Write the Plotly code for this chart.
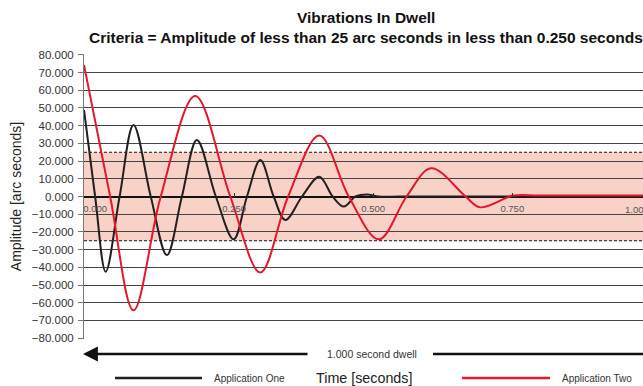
import plotly.graph_objects as go

# Application One: amplitude samples (seconds, arc seconds)
t_one = [-0.020, 0.000, 0.019, 0.044, 0.069, 0.100, 0.129, 0.156, 0.183, 0.217,
         0.249, 0.273, 0.297, 0.321, 0.342, 0.372, 0.403, 0.427, 0.447, 0.468,
         0.489, 0.510, 0.550, 0.985]
amp_one = [48.9, 0.0, -42.5, 0.0, 40.4, 0.0, -33.1, 0.0, 31.9, 0.0,
           -24.2, 0.0, 20.6, 0.0, -13.3, 0.0, 11.2, 0.0, -5.7, 0.0,
           1.2, 0.0, 0.0, 0.0]

# Application Two: amplitude samples (seconds, arc seconds)
t_two = [-0.020, 0.027, 0.069, 0.118, 0.180, 0.243, 0.297, 0.347, 0.403, 0.456,
         0.510, 0.560, 0.604, 0.666, 0.692, 0.752, 0.800, 0.985]
amp_two = [74.3, 0.0, -64.2, 0.0, 56.8, 0.0, -42.9, 0.0, 34.4, 0.0,
           -24.2, 0.0, 15.9, 0.0, -6.1, 0.5, 0.5, 0.5]

criteria = 25  # acceptance band, +/- arc seconds
y_ticks = list(range(-80, 81, 10))
x_ticks = [0.0, 0.25, 0.5, 0.75, 1.0]
x_tick_labels = ["0.000", "0.250", "0.500", "0.750", "1.000"]
x_range = [-0.020, 0.985]
y_range = [-80.5, 80.5]

series_names = ["Application One", "Application Two"]
series_colors = ["#231f20", "#e3172d"]

FONT = "Arial, Liberation Sans, sans-serif"
W, H = 643, 386
ML, MR, MT, MB = 84, 0, 54, 47
PLOT_W = W - ML - MR
PLOT_H = H - MT - MB


def px(x):
    """Horizontal pixel -> paper coordinate."""
    return (x - ML) / PLOT_W


def py(y):
    """Vertical pixel -> paper coordinate."""
    return (H - MB - y) / PLOT_H


def x_to_paper(v):
    return (v - x_range[0]) / (x_range[1] - x_range[0])


def y_to_paper(v):
    return (v - y_range[0]) / (y_range[1] - y_range[0])


fig = go.Figure()
fig.add_trace(go.Scatter(x=t_one, y=amp_one, mode="lines", name=series_names[0],
                         line=dict(color=series_colors[0], width=2, shape="spline", smoothing=1.0)))
fig.add_trace(go.Scatter(x=t_two, y=amp_two, mode="lines", name=series_names[1],
                         line=dict(color=series_colors[1], width=2, shape="spline", smoothing=1.0)))

shapes = [
    # criteria band
    dict(type="rect", xref="paper", yref="y", x0=0, x1=1, y0=-criteria, y1=criteria,
         fillcolor="#f9d2c7", line=dict(width=0), layer="below"),
    dict(type="line", xref="paper", yref="y", x0=0, x1=1, y0=criteria, y1=criteria,
         line=dict(color="#111", width=1, dash="3px,2px"), layer="below"),
    dict(type="line", xref="paper", yref="y", x0=0, x1=1, y0=-criteria, y1=-criteria,
         line=dict(color="#111", width=1, dash="3px,2px"), layer="below"),
    # dwell arrow, right segment
    dict(type="line", xref="paper", yref="paper", x0=px(433), x1=px(650), y0=py(354), y1=py(354),
         line=dict(color="#111", width=2.7)),
    # legend keys
    dict(type="line", xref="paper", yref="paper", x0=px(115), x1=px(202), y0=py(378), y1=py(378),
         line=dict(color=series_colors[0], width=2.5)),
    dict(type="line", xref="paper", yref="paper", x0=px(462), x1=px(550), y0=py(378), y1=py(378),
         line=dict(color=series_colors[1], width=2.5)),
]

annotations = [
    dict(text="<b>Vibrations In Dwell</b>", xref="paper", yref="paper", x=px(366), y=py(17.5),
         xanchor="center", yanchor="middle", showarrow=False, font=dict(size=15.5, color="#111")),
    dict(text="<b>Criteria = Amplitude of less than 25 arc seconds in less than 0.250 seconds</b>",
         xref="paper", yref="paper", x=px(366), y=py(37), xanchor="center", yanchor="middle",
         showarrow=False, font=dict(size=15.5, color="#111")),
    # last time label sits past the plot edge
    dict(text=x_tick_labels[-1], xref="paper", yref="paper", x=x_to_paper(x_ticks[-1]),
         y=y_to_paper(0), xanchor="right", yanchor="top", yshift=-5, showarrow=False,
         font=dict(size=9.5, color="#555")),
    # dwell arrow with its caption
    dict(text="1.000 second dwell", xref="paper", yref="paper", x=px(83), y=py(354),
         ax=372 - 83, ay=0, showarrow=True, arrowhead=2, arrowsize=1.1, arrowwidth=2.7,
         arrowcolor="#111", borderpad=19, font=dict(size=10.5, color="#333")),
    dict(text="Time [seconds]", xref="paper", yref="paper", x=px(363.5), y=py(378),
         xanchor="center", yanchor="middle", showarrow=False, font=dict(size=14.3, color="#222")),
    dict(text=series_names[0], xref="paper", yref="paper", x=px(212), y=py(378),
         xanchor="left", yanchor="middle", showarrow=False, font=dict(size=10, color="#333")),
    dict(text=series_names[1], xref="paper", yref="paper", x=px(560), y=py(378),
         xanchor="left", yanchor="middle", showarrow=False, font=dict(size=10, color="#333")),
]

fig.update_layout(
    width=W, height=H,
    margin=dict(l=ML, r=MR, t=MT, b=MB, autoexpand=False),
    paper_bgcolor="white", plot_bgcolor="rgba(0,0,0,0)",
    font=dict(family=FONT),
    showlegend=False,
    shapes=shapes,
    annotations=annotations,
    xaxis=dict(
        range=x_range, anchor="free", position=y_to_paper(0),
        tickvals=x_ticks[:-1], ticktext=x_tick_labels[:-1],
        ticks="inside", ticklen=4, tickcolor="#333", tickwidth=1, ticklabelstandoff=5,
        tickfont=dict(size=9.5, color="#555"),
        showgrid=False, zeroline=False, showline=False,
    ),
    yaxis=dict(
        range=y_range, tickvals=y_ticks, tickformat=".3f",
        showgrid=True, gridcolor="#444", gridwidth=1,
        zeroline=True, zerolinecolor="#111", zerolinewidth=1.5,
        showline=True, linecolor="#777", linewidth=1,
        ticks="outside", ticklen=5, tickcolor="#777", ticklabelstandoff=2,
        tickfont=dict(size=11.5, color="#333"),
        title=dict(text="Amplitude [arc seconds]", font=dict(size=14, color="#222"), standoff=6),
    ),
)

fig.write_html("out.html")
